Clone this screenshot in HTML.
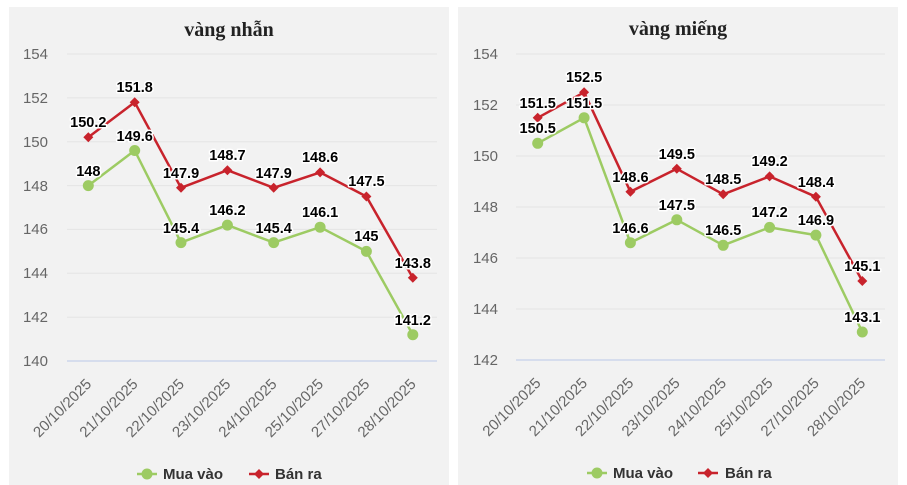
<!DOCTYPE html>
<html><head><meta charset="utf-8"><style>
html,body{margin:0;padding:0;background:#fff;}
svg{display:block;}
.t{font-family:"Liberation Serif",serif;font-weight:bold;font-size:20px;fill:#222;}
.yl{font-family:"Liberation Sans",sans-serif;font-size:15px;fill:#666;}
.xl{font-family:"Liberation Sans",sans-serif;font-size:15px;fill:#666;}
.dl{font-family:"Liberation Sans",sans-serif;font-size:14.5px;font-weight:bold;fill:#000;stroke:#fff;stroke-width:3px;paint-order:stroke;stroke-linejoin:round;}
.lg{font-family:"Liberation Sans",sans-serif;font-size:15px;font-weight:bold;fill:#333;}
</style></head><body>
<svg width="907" height="485" viewBox="0 0 907 485" xmlns="http://www.w3.org/2000/svg">
<rect x="9" y="7" width="440" height="478" fill="#f2f2f2"/>
<rect x="458" y="7" width="440" height="478" fill="#f2f2f2"/>

<!-- LEFT CHART -->
<text class="t" x="229" y="36" text-anchor="middle">vàng nhẫn</text>
<g stroke="#e4e4e4" stroke-width="1">
<line x1="67" x2="437" y1="54" y2="54"/>
<line x1="67" x2="437" y1="97.9" y2="97.9"/>
<line x1="67" x2="437" y1="141.7" y2="141.7"/>
<line x1="67" x2="437" y1="185.6" y2="185.6"/>
<line x1="67" x2="437" y1="229.4" y2="229.4"/>
<line x1="67" x2="437" y1="273.3" y2="273.3"/>
<line x1="67" x2="437" y1="317.2" y2="317.2"/>
</g>
<line x1="67" x2="437" y1="361" y2="361" stroke="#ccd6eb" stroke-width="1.5"/>
<g class="yl" text-anchor="end">
<text x="48" y="59">154</text>
<text x="48" y="103">152</text>
<text x="48" y="147">150</text>
<text x="48" y="191">148</text>
<text x="48" y="234">146</text>
<text x="48" y="278">144</text>
<text x="48" y="322">142</text>
<text x="48" y="366">140</text>
</g>
<g class="xl" text-anchor="end">
<text transform="translate(92.3,385) rotate(-45)">20/10/2025</text>
<text transform="translate(138.7,385) rotate(-45)">21/10/2025</text>
<text transform="translate(185,385) rotate(-45)">22/10/2025</text>
<text transform="translate(231.4,385) rotate(-45)">23/10/2025</text>
<text transform="translate(277.7,385) rotate(-45)">24/10/2025</text>
<text transform="translate(324.1,385) rotate(-45)">25/10/2025</text>
<text transform="translate(370.4,385) rotate(-45)">27/10/2025</text>
<text transform="translate(416.8,385) rotate(-45)">28/10/2025</text>
</g>
<polyline fill="none" stroke="#9dcb63" stroke-width="2.5" stroke-linejoin="round" points="88.3,185.6 134.7,150.5 181,242.6 227.4,225.1 273.7,242.6 320.1,227.2 366.4,251.4 412.8,334.7"/>
<g fill="#9dcb63">
<circle cx="88.3" cy="185.6" r="5.5"/><circle cx="134.7" cy="150.5" r="5.5"/><circle cx="181" cy="242.6" r="5.5"/><circle cx="227.4" cy="225.1" r="5.5"/><circle cx="273.7" cy="242.6" r="5.5"/><circle cx="320.1" cy="227.2" r="5.5"/><circle cx="366.4" cy="251.4" r="5.5"/><circle cx="412.8" cy="334.7" r="5.5"/>
</g>
<polyline fill="none" stroke="#c8232c" stroke-width="2.5" stroke-linejoin="round" points="88.3,137.3 134.7,102.2 181,187.8 227.4,170.2 273.7,187.8 320.1,172.4 366.4,196.5 412.8,277.7"/>
<g fill="#c8232c">
<path d="M88.3,132.3 l5,5 l-5,5 l-5,-5z"/><path d="M134.7,97.2 l5,5 l-5,5 l-5,-5z"/><path d="M181,182.8 l5,5 l-5,5 l-5,-5z"/><path d="M227.4,165.2 l5,5 l-5,5 l-5,-5z"/><path d="M273.7,182.8 l5,5 l-5,5 l-5,-5z"/><path d="M320.1,167.4 l5,5 l-5,5 l-5,-5z"/><path d="M366.4,191.5 l5,5 l-5,5 l-5,-5z"/><path d="M412.8,272.7 l5,5 l-5,5 l-5,-5z"/>
</g>
<g class="dl" text-anchor="middle">
<text x="88.3" y="176">148</text>
<text x="134.7" y="141">149.6</text>
<text x="181" y="233">145.4</text>
<text x="227.4" y="215">146.2</text>
<text x="273.7" y="233">145.4</text>
<text x="320.1" y="217">146.1</text>
<text x="366.4" y="241">145</text>
<text x="412.8" y="325">141.2</text>
<text x="88.3" y="127">150.2</text>
<text x="134.7" y="92">151.8</text>
<text x="181" y="178">147.9</text>
<text x="227.4" y="160">148.7</text>
<text x="273.7" y="178">147.9</text>
<text x="320.1" y="162">148.6</text>
<text x="366.4" y="186">147.5</text>
<text x="412.8" y="268">143.8</text>
</g>
<!-- legend left -->
<line x1="137" x2="157" y1="474" y2="474" stroke="#9dcb63" stroke-width="2.5"/>
<circle cx="147" cy="474" r="5.5" fill="#9dcb63"/>
<text class="lg" x="163" y="479">Mua vào</text>
<line x1="249" x2="269" y1="474" y2="474" stroke="#c8232c" stroke-width="2.5"/>
<path d="M259,469 l5,5 l-5,5 l-5,-5z" fill="#c8232c"/>
<text class="lg" x="275" y="479">Bán ra</text>

<!-- RIGHT CHART -->
<text class="t" x="678" y="35" text-anchor="middle">vàng miếng</text>
<g stroke="#e4e4e4" stroke-width="1">
<line x1="516" x2="885" y1="54" y2="54"/>
<line x1="516" x2="885" y1="105" y2="105"/>
<line x1="516" x2="885" y1="156" y2="156"/>
<line x1="516" x2="885" y1="207" y2="207"/>
<line x1="516" x2="885" y1="258" y2="258"/>
<line x1="516" x2="885" y1="309" y2="309"/>
</g>
<line x1="516" x2="885" y1="360" y2="360" stroke="#ccd6eb" stroke-width="1.5"/>
<g class="yl" text-anchor="end">
<text x="498" y="59">154</text>
<text x="498" y="110">152</text>
<text x="498" y="161">150</text>
<text x="498" y="212">148</text>
<text x="498" y="263">146</text>
<text x="498" y="314">144</text>
<text x="498" y="365">142</text>
</g>
<g class="xl" text-anchor="end">
<text transform="translate(541.7,384) rotate(-45)">20/10/2025</text>
<text transform="translate(588.1,384) rotate(-45)">21/10/2025</text>
<text transform="translate(634.4,384) rotate(-45)">22/10/2025</text>
<text transform="translate(680.8,384) rotate(-45)">23/10/2025</text>
<text transform="translate(727.2,384) rotate(-45)">24/10/2025</text>
<text transform="translate(773.6,384) rotate(-45)">25/10/2025</text>
<text transform="translate(819.9,384) rotate(-45)">27/10/2025</text>
<text transform="translate(866.3,384) rotate(-45)">28/10/2025</text>
</g>
<polyline fill="none" stroke="#9dcb63" stroke-width="2.5" stroke-linejoin="round" points="537.7,143.3 584.1,117.8 630.4,242.7 676.8,219.8 723.2,245.3 769.6,227.4 815.9,235.1 862.3,332"/>
<g fill="#9dcb63">
<circle cx="537.7" cy="143.3" r="5.5"/><circle cx="584.1" cy="117.8" r="5.5"/><circle cx="630.4" cy="242.7" r="5.5"/><circle cx="676.8" cy="219.8" r="5.5"/><circle cx="723.2" cy="245.3" r="5.5"/><circle cx="769.6" cy="227.4" r="5.5"/><circle cx="815.9" cy="235.1" r="5.5"/><circle cx="862.3" cy="332" r="5.5"/>
</g>
<polyline fill="none" stroke="#c8232c" stroke-width="2.5" stroke-linejoin="round" points="537.7,117.8 584.1,92.3 630.4,191.7 676.8,168.8 723.2,194.3 769.6,176.4 815.9,196.8 862.3,281"/>
<g fill="#c8232c">
<path d="M537.7,112.8 l5,5 l-5,5 l-5,-5z"/><path d="M584.1,87.3 l5,5 l-5,5 l-5,-5z"/><path d="M630.4,186.7 l5,5 l-5,5 l-5,-5z"/><path d="M676.8,163.8 l5,5 l-5,5 l-5,-5z"/><path d="M723.2,189.3 l5,5 l-5,5 l-5,-5z"/><path d="M769.6,171.4 l5,5 l-5,5 l-5,-5z"/><path d="M815.9,191.8 l5,5 l-5,5 l-5,-5z"/><path d="M862.3,276 l5,5 l-5,5 l-5,-5z"/>
</g>
<g class="dl" text-anchor="middle">
<text x="537.7" y="133">150.5</text>
<text x="584.1" y="108">151.5</text>
<text x="630.4" y="233">146.6</text>
<text x="676.8" y="210">147.5</text>
<text x="723.2" y="235">146.5</text>
<text x="769.6" y="217">147.2</text>
<text x="815.9" y="225">146.9</text>
<text x="862.3" y="322">143.1</text>
<text x="537.7" y="108">151.5</text>
<text x="584.1" y="82">152.5</text>
<text x="630.4" y="182">148.6</text>
<text x="676.8" y="159">149.5</text>
<text x="723.2" y="184">148.5</text>
<text x="769.6" y="166">149.2</text>
<text x="815.9" y="187">148.4</text>
<text x="862.3" y="271">145.1</text>
</g>
<!-- legend right -->
<line x1="587" x2="607" y1="473" y2="473" stroke="#9dcb63" stroke-width="2.5"/>
<circle cx="597" cy="473" r="5.5" fill="#9dcb63"/>
<text class="lg" x="613" y="478">Mua vào</text>
<line x1="698" x2="718" y1="473" y2="473" stroke="#c8232c" stroke-width="2.5"/>
<path d="M708,468 l5,5 l-5,5 l-5,-5z" fill="#c8232c"/>
<text class="lg" x="725" y="478">Bán ra</text>
</svg>
</body></html>
